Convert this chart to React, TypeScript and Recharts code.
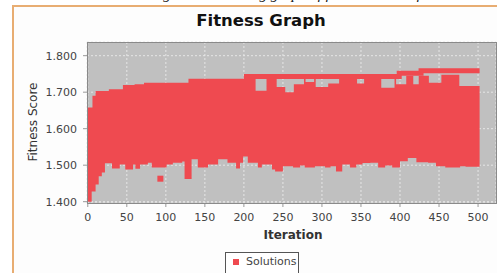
import { ComposedChart, Area, Line, Scatter, XAxis, YAxis, CartesianGrid } from 'recharts'

// lower edge of the solution cloud (iteration -> fitness)
const lowIter = [0, 5, 10, 14, 18, 22, 31, 41, 48, 58, 61, 67, 77, 82, 101, 109, 121, 124, 133, 141, 154, 167, 179, 190, 195, 199, 205, 218, 223, 236, 240, 250, 263, 272, 278, 291, 304, 311, 318, 326, 336, 344, 352, 362, 372, 381, 390, 400, 410, 421, 436, 446, 458, 477, 484, 502]
const lowVal = [1.400, 1.428, 1.447, 1.470, 1.480, 1.505, 1.491, 1.502, 1.488, 1.502, 1.490, 1.502, 1.507, 1.494, 1.502, 1.507, 1.510, 1.462, 1.516, 1.494, 1.502, 1.516, 1.507, 1.491, 1.507, 1.524, 1.507, 1.494, 1.502, 1.488, 1.483, 1.497, 1.494, 1.499, 1.494, 1.497, 1.494, 1.497, 1.483, 1.502, 1.494, 1.502, 1.506, 1.507, 1.494, 1.499, 1.494, 1.511, 1.520, 1.508, 1.507, 1.497, 1.494, 1.497, 1.496, 1.496]

// upper edge of the bulk of solutions
const highIter = [0, 6, 10, 27, 45, 60, 72, 129, 200, 215, 229, 242, 253, 264, 277, 279, 290, 292, 308, 322, 345, 354, 376, 393, 395, 408, 417, 424, 437, 453, 476, 502]
const highVal = [1.658, 1.690, 1.703, 1.708, 1.720, 1.722, 1.726, 1.737, 1.738, 1.704, 1.738, 1.714, 1.700, 1.722, 1.738, 1.728, 1.738, 1.714, 1.724, 1.738, 1.724, 1.738, 1.712, 1.738, 1.722, 1.745, 1.722, 1.745, 1.726, 1.748, 1.717, 1.717]

// best solution band
const bestIter = [200, 399, 427, 502]
const bestVal = [1.743, 1.752, 1.759, 1.759]

const outliers = [{ it: 93, v: 1.463 }]

const xTicks = [0, 50, 100, 150, 200, 250, 300, 350, 400, 450, 500]
const yTicks = [1.4, 1.5, 1.6, 1.7, 1.8]

const RED = '#ef4a50'

const stepAt = (iters: number[], vals: number[], it: number) => {
  let v: number | null = null
  iters.forEach((x, i) => {
    if (x <= it) v = vals[i]
  })
  return v
}

const allIters = Array.from(new Set([...lowIter, ...highIter, ...bestIter])).sort((a, b) => a - b)
const data = allIters.map((it) => ({
  it,
  range: [stepAt(lowIter, lowVal, it), stepAt(highIter, highVal, it)],
  best: stepAt(bestIter, bestVal, it),
}))

const font = '"DejaVu Sans", Verdana, sans-serif'

export default function App() {
  return (
    <div style={{ position: 'absolute', left: 0, top: 0, width: 497, height: 273, overflow: 'hidden', background: '#fff' }}>
      <div style={{ position: 'absolute', left: 150, top: -14, fontFamily: 'Liberation Serif, serif', fontStyle: 'italic', fontSize: 15, whiteSpace: 'nowrap', color: '#111' }}>
        Figure 5: Resulting graph of fitness scores of the solutions
      </div>
      <div style={{ position: 'absolute', left: 12, top: 5, width: 500, height: 290, border: '2px solid #e8ad72', background: '#fdfdfd' }} />
      <div style={{ position: 'absolute', left: 0, top: 11, width: 522, textAlign: 'center', fontFamily: font, fontWeight: 'bold', fontSize: 16.5, color: '#111' }}>
        Fitness Graph
      </div>
      <div style={{ position: 'absolute', left: 33, top: 122, transform: 'translate(-50%, -50%) rotate(-90deg)', fontFamily: font, fontSize: 12, color: '#333', whiteSpace: 'nowrap' }}>
        Fitness Score
      </div>
      <div style={{ position: 'absolute', left: 293, top: 235, transform: 'translate(-50%, -50%)', fontFamily: font, fontWeight: 'bold', fontSize: 12, color: '#333' }}>
        Iteration
      </div>
      <div style={{ position: 'absolute', left: 0, top: 0 }}>
        <ComposedChart width={497} height={273} data={data} margin={{ top: 42, right: 1, left: 7, bottom: 50 }}>
          <CartesianGrid fill="#c0c0c0" stroke="#e6e6e6" strokeDasharray="2 2" />
          <XAxis
            dataKey="it"
            type="number"
            domain={[-1, 523]}
            ticks={xTicks}
            allowDataOverflow
            height={20}
            axisLine={false}
            tickSize={4}
            tickMargin={6}
            tickLine={{ stroke: '#999' }}
            tick={{ fontSize: 11, fill: '#444', fontFamily: font }}
          />
          <YAxis
            type="number"
            domain={[1.3964, 1.8375]}
            ticks={yTicks}
            allowDataOverflow
            width={80}
            axisLine={false}
            tickSize={4}
            tickMargin={6}
            tickLine={{ stroke: '#999' }}
            tickFormatter={(v) => Number(v).toFixed(3)}
            tick={{ fontSize: 11, fill: '#444', fontFamily: font }}
          />
          <Area type="stepAfter" dataKey="range" fill={RED} fillOpacity={1} stroke="none" isAnimationActive={false} />
          <Line type="stepAfter" dataKey="best" stroke={RED} strokeWidth={5} dot={false} connectNulls isAnimationActive={false} />
          <Scatter
            data={outliers}
            dataKey="v"
            isAnimationActive={false}
            shape={(p: any) => <rect x={p.cx - 3} y={p.cy - 3} width={6} height={6} fill={RED} />}
          />
        </ComposedChart>
      </div>
      <div style={{ position: 'absolute', left: 87, top: 42, width: 408, height: 160, border: '1px solid #8a8a8a', pointerEvents: 'none' }} />
      <div style={{ position: 'absolute', left: 225, top: 252, width: 72, height: 30, border: '1px solid #555', background: '#fff' }}>
        <div style={{ position: 'absolute', left: 7, top: 6, width: 6, height: 6, background: RED }} />
        <div style={{ position: 'absolute', left: 20, top: 2, fontFamily: font, fontSize: 11, color: '#444' }}>Solutions</div>
      </div>
    </div>
  )
}
